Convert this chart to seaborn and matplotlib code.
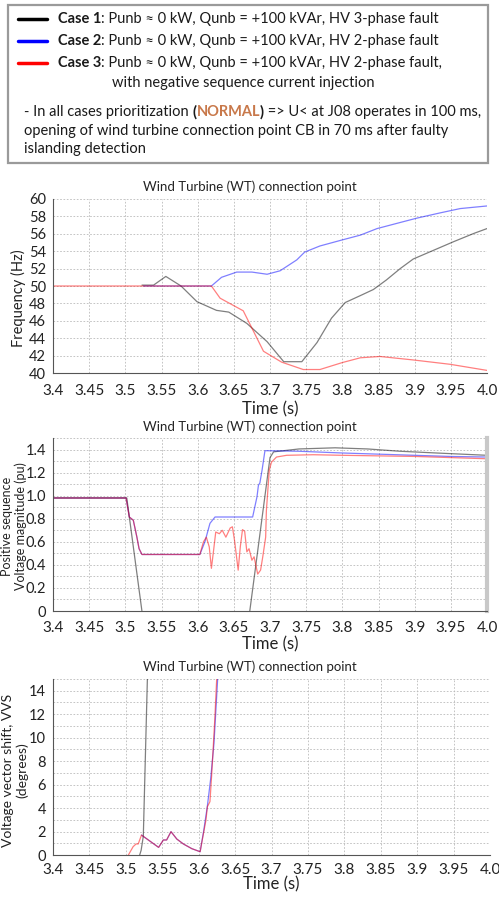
import matplotlib
matplotlib.use("Agg")
import matplotlib.pyplot as plt
import seaborn as sns
import pandas as pd
import numpy as np
from matplotlib.patches import Rectangle
from matplotlib.lines import Line2D
from matplotlib.ticker import MultipleLocator

# ---------------- data ----------------
cases = ["Case 1", "Case 2", "Case 3"]
case_colors = ["black", "blue", "red"]
legend_rest = [": Punb \u2248 0 kW, Qunb = +100 kVAr, HV 3-phase fault",
               ": Punb \u2248 0 kW, Qunb = +100 kVAr, HV 2-phase fault",
               ": Punb \u2248 0 kW, Qunb = +100 kVAr, HV 2-phase fault,"]
legend_extra = "with negative sequence current injection"
note_lines = ["- In all cases prioritization ", "(", "NORMAL", ")", " => U< at J08 operates in 100 ms,",
              "opening of wind turbine connection point CB in 70 ms after faulty",
              "islanding detection"]
panel_title = "Wind Turbine (WT) connection point"

x_ticks = [3.4, 3.45, 3.5, 3.55, 3.6, 3.65, 3.7, 3.75, 3.8, 3.85, 3.9, 3.95, 4.0]
x_tick_labels = ["3.4", "3.45", "3.5", "3.55", "3.6", "3.65", "3.7", "3.75", "3.8", "3.85", "3.9", "3.95", "4.0"]

# Panel 1: frequency (Hz)
t_f_black = [3.523, 3.539, 3.556, 3.577, 3.599, 3.626, 3.643, 3.668, 3.696, 3.719, 3.744, 3.765, 3.785,
             3.804, 3.825, 3.843, 3.861, 3.880, 3.898, 3.926, 3.954, 3.982, 4.000]
f_black = [50.1, 50.1, 51.1, 50.0, 48.2, 47.2, 47.0, 45.7, 43.6, 41.3, 41.3, 43.5, 46.3,
           48.1, 48.9, 49.6, 50.7, 52.0, 53.1, 54.1, 55.1, 56.05, 56.6]
t_f_blue = [3.525, 3.619, 3.633, 3.654, 3.675, 3.696, 3.714, 3.737, 3.748, 3.769, 3.800, 3.825, 3.848,
            3.880, 3.903, 3.935, 3.963, 4.000]
f_blue = [50.0, 50.0, 51.0, 51.6, 51.6, 51.35, 51.75, 53.0, 53.9, 54.6, 55.3, 55.85, 56.6,
          57.3, 57.8, 58.4, 58.9, 59.2]
t_f_red = [3.400, 3.619, 3.631, 3.663, 3.691, 3.716, 3.746, 3.769, 3.800, 3.825, 3.852, 3.898, 3.949, 4.000]
f_red = [50.0, 50.0, 48.6, 47.15, 42.5, 41.25, 40.4, 40.4, 41.2, 41.75, 41.9, 41.5, 41.0, 40.3]

# Panel 2: positive sequence voltage magnitude (pu)
t_v_black = [3.400, 3.502, 3.524, 3.671, 3.700, 3.705, 3.740, 3.790, 3.835, 3.880, 3.930, 4.000]
v_black = [0.98, 0.98, -0.05, -0.05, 1.33, 1.38, 1.405, 1.415, 1.405, 1.385, 1.37, 1.35]
t_v_blue = [3.400, 3.501, 3.5055, 3.511, 3.516, 3.519, 3.523, 3.603, 3.610, 3.617, 3.624, 3.676, 3.682,
            3.684, 3.686, 3.689, 3.693, 3.740, 3.800, 3.850, 3.900, 3.950, 4.000]
v_blue = [0.98, 0.98, 0.815, 0.787, 0.64, 0.54, 0.49, 0.49, 0.60, 0.76, 0.815, 0.815, 0.99,
          1.09, 1.11, 1.22, 1.39, 1.385, 1.37, 1.36, 1.35, 1.34, 1.335]
t_v_red = [3.400, 3.501, 3.5055, 3.511, 3.516, 3.519, 3.523, 3.603, 3.608, 3.612, 3.616, 3.619, 3.622,
           3.625, 3.630, 3.634, 3.639, 3.645, 3.648, 3.651, 3.656, 3.659, 3.662, 3.665, 3.668, 3.671,
           3.675, 3.678, 3.683, 3.687, 3.690, 3.694, 3.695, 3.699, 3.702, 3.709, 3.723, 3.760, 3.800,
           3.850, 3.900, 3.950, 4.000]
v_red = [0.98, 0.98, 0.815, 0.787, 0.64, 0.54, 0.49, 0.49, 0.60, 0.64, 0.556, 0.37, 0.525,
         0.685, 0.67, 0.70, 0.64, 0.72, 0.73, 0.61, 0.354, 0.56, 0.706, 0.69, 0.513, 0.54,
         0.44, 0.47, 0.32, 0.355, 0.47, 0.64, 0.87, 1.22, 1.29, 1.335, 1.35, 1.355, 1.35,
         1.345, 1.34, 1.33, 1.32]

# Panel 3: voltage vector shift (degrees)
t_s_black = [3.519, 3.521, 3.524, 3.530]
s_black = [0.0, 0.4, 1.6, 16.0]
t_s_blue = [3.5215, 3.545, 3.5515, 3.556, 3.562, 3.570, 3.579, 3.5906, 3.602, 3.607, 3.612, 3.6165, 3.621, 3.627]
s_blue = [1.7, 0.65, 1.28, 1.28, 1.99, 1.36, 0.94, 0.54, 0.28, 2.1, 4.2, 6.5, 9.5, 16.0]
t_s_red = [3.5035, 3.510, 3.514, 3.517, 3.5215, 3.545, 3.5515, 3.556, 3.562, 3.570, 3.579, 3.5906, 3.602,
           3.610, 3.612, 3.6155, 3.618, 3.622, 3.6255]
s_red = [0.0, 0.71, 0.94, 0.94, 1.7, 0.65, 1.28, 1.28, 1.99, 1.36, 0.94, 0.54, 0.28,
         2.98, 4.12, 4.55, 6.97, 11.4, 16.0]


def long_df(series):
    frames = []
    for case, (t, v) in zip(cases, series):
        frames.append(pd.DataFrame({"Time": t, "value": v, "case": case}))
    return pd.concat(frames, ignore_index=True)


df_f = long_df([(t_f_black, f_black), (t_f_blue, f_blue), (t_f_red, f_red)])
df_v = long_df([(t_v_black, v_black), (t_v_blue, v_blue), (t_v_red, v_red)])
df_s = long_df([(t_s_black, s_black), (t_s_blue, s_blue), (t_s_red, s_red)])

# ---------------- style ----------------
sns.set_style("white")
plt.rcParams["font.family"] = ["Lato", "DejaVu Sans"]

W, H = 499, 897
fig = plt.figure(figsize=(W / 100, H / 100), dpi=100)


def fx(px):
    return px / W


def fy(py):
    return 1 - py / H


def make_ax(l, t, r, b):
    return fig.add_axes([fx(l), fy(b), (r - l) / W, (b - t) / H])


palette = dict(zip(cases, case_colors))
GRID = dict(color="#bababa", linestyle=(0, (2.0, 2.0)), linewidth=0.6)


def style_ax(ax, ylim, ymajor, yminor, ylabels=None, xpad=4, labelpad=2):
    ax.set_xlim(3.4, 4.0)
    ax.set_ylim(*ylim)
    ax.set_xticks(x_ticks)
    ax.set_xticklabels(x_tick_labels)
    ax.yaxis.set_major_locator(MultipleLocator(ymajor))
    ax.yaxis.set_minor_locator(MultipleLocator(yminor))
    if ylabels is not None:
        ax.set_yticks(ylabels[0])
        ax.set_yticklabels(ylabels[1])
    ax.grid(True, which="both", axis="y", **GRID)
    ax.grid(True, which="major", axis="x", **GRID)
    ax.set_axisbelow(True)
    for s in ["top", "right"]:
        ax.spines[s].set_visible(False)
    for s in ["left", "bottom"]:
        ax.spines[s].set_color("#555555")
        ax.spines[s].set_linewidth(0.8)
    ax.tick_params(axis="x", direction="out", length=4, width=0.7, color="#555555",
                   labelsize=11, pad=xpad, labelcolor="#222222")
    ax.tick_params(axis="y", which="major", direction="in", length=4, width=0.7, color="#555555",
                   labelsize=10.5, pad=5, labelcolor="#222222")
    ax.tick_params(axis="y", which="minor", direction="in", length=2.5, width=0.6, color="#777777")
    ax.set_xlabel("Time (s)", fontsize=12, labelpad=labelpad, color="#222222")
    ax.set_ylabel("")


def draw(ax, df):
    sns.lineplot(data=df, x="Time", y="value", hue="case", hue_order=cases, palette=palette,
                 estimator=None, sort=False, legend=False, linewidth=0.9, alpha=0.5, ax=ax)


# Panel 1
ax1 = make_ax(53, 199, 487, 373)
draw(ax1, df_f)
style_ax(ax1, (40, 60), 2, 2)

# Panel 2
ax2 = make_ax(53, 438, 487, 611)
draw(ax2, df_v)
style_ax(ax2, (0, 1.5), 0.2, 0.1,
         ylabels=([0, 0.2, 0.4, 0.6, 0.8, 1.0, 1.2, 1.4], ["0", "0.2", "0.4", "0.6", "0.8", "1.0", "1.2", "1.4"]),
         xpad=3, labelpad=1)
ax2.spines["right"].set_visible(True)
ax2.spines["right"].set_color("#c8c8c8")
ax2.spines["right"].set_linewidth(3)

# Panel 3
ax3 = make_ax(53, 679, 490, 855)
draw(ax3, df_s)
style_ax(ax3, (0, 15), 2, 1, xpad=2, labelpad=-1)

# titles (centered on figure)
for ypx in (187, 427, 667):
    fig.text(0.5, fy(ypx), panel_title, ha="center", va="center", fontsize=9.5, color="#222222")

# y labels
fig.text(fx(18), fy(298), "Frequency (Hz)", rotation=90, ha="center", va="center",
         fontsize=10.5, color="#222222")
fig.text(fx(14), fy(526), "Positive sequence\nVoltage magnitude (pu)", rotation=90, ha="center",
         va="center", fontsize=9, color="#222222", linespacing=1.15, multialignment="center")
fig.text(fx(15.5), fy(770), "Voltage vector shift, VVS\n(degrees)", rotation=90, ha="center",
         va="center", fontsize=10, color="#222222", linespacing=1.15, multialignment="center")

# ---------------- legend box ----------------
fig.patches.append(Rectangle((fx(8), fy(163)), (488 - 8) / W, (163 - 5) / H, transform=fig.transFigure,
                             facecolor="white", edgecolor="#9a9a9a", linewidth=1.6, zorder=0))
renderer = fig.canvas.get_renderer()
LFS = 10.5
TXT = "#1a1a1a"


def segs(xpx, ypx, parts):
    x = fx(xpx)
    for text, kw in parts:
        props = dict(ha="left", va="center", fontsize=LFS, color=TXT)
        props.update(kw)
        t = fig.text(x, fy(ypx), text, **props)
        bb = t.get_window_extent(renderer)
        x += bb.width / W


leg_y = [19, 41, 63]
for yy, case, col, rest in zip(leg_y, cases, case_colors, legend_rest):
    fig.lines.append(Line2D([fx(18), fx(47)], [fy(yy), fy(yy)], transform=fig.transFigure,
                            color=col, linewidth=2.5))
    segs(58, yy, [(case, dict(fontweight="bold")), (rest, {})])
segs(112, 83, [(legend_extra, {})])
segs(24, 112, [(note_lines[0], {}), (note_lines[1], dict(fontweight="bold")),
               (note_lines[2], dict(fontweight="bold", color="#c8784a")),
               (note_lines[3], dict(fontweight="bold")), (note_lines[4], {})])
segs(24, 131, [(note_lines[5], {})])
segs(24, 149, [(note_lines[6], {})])

fig.savefig("out.png", dpi=100)
